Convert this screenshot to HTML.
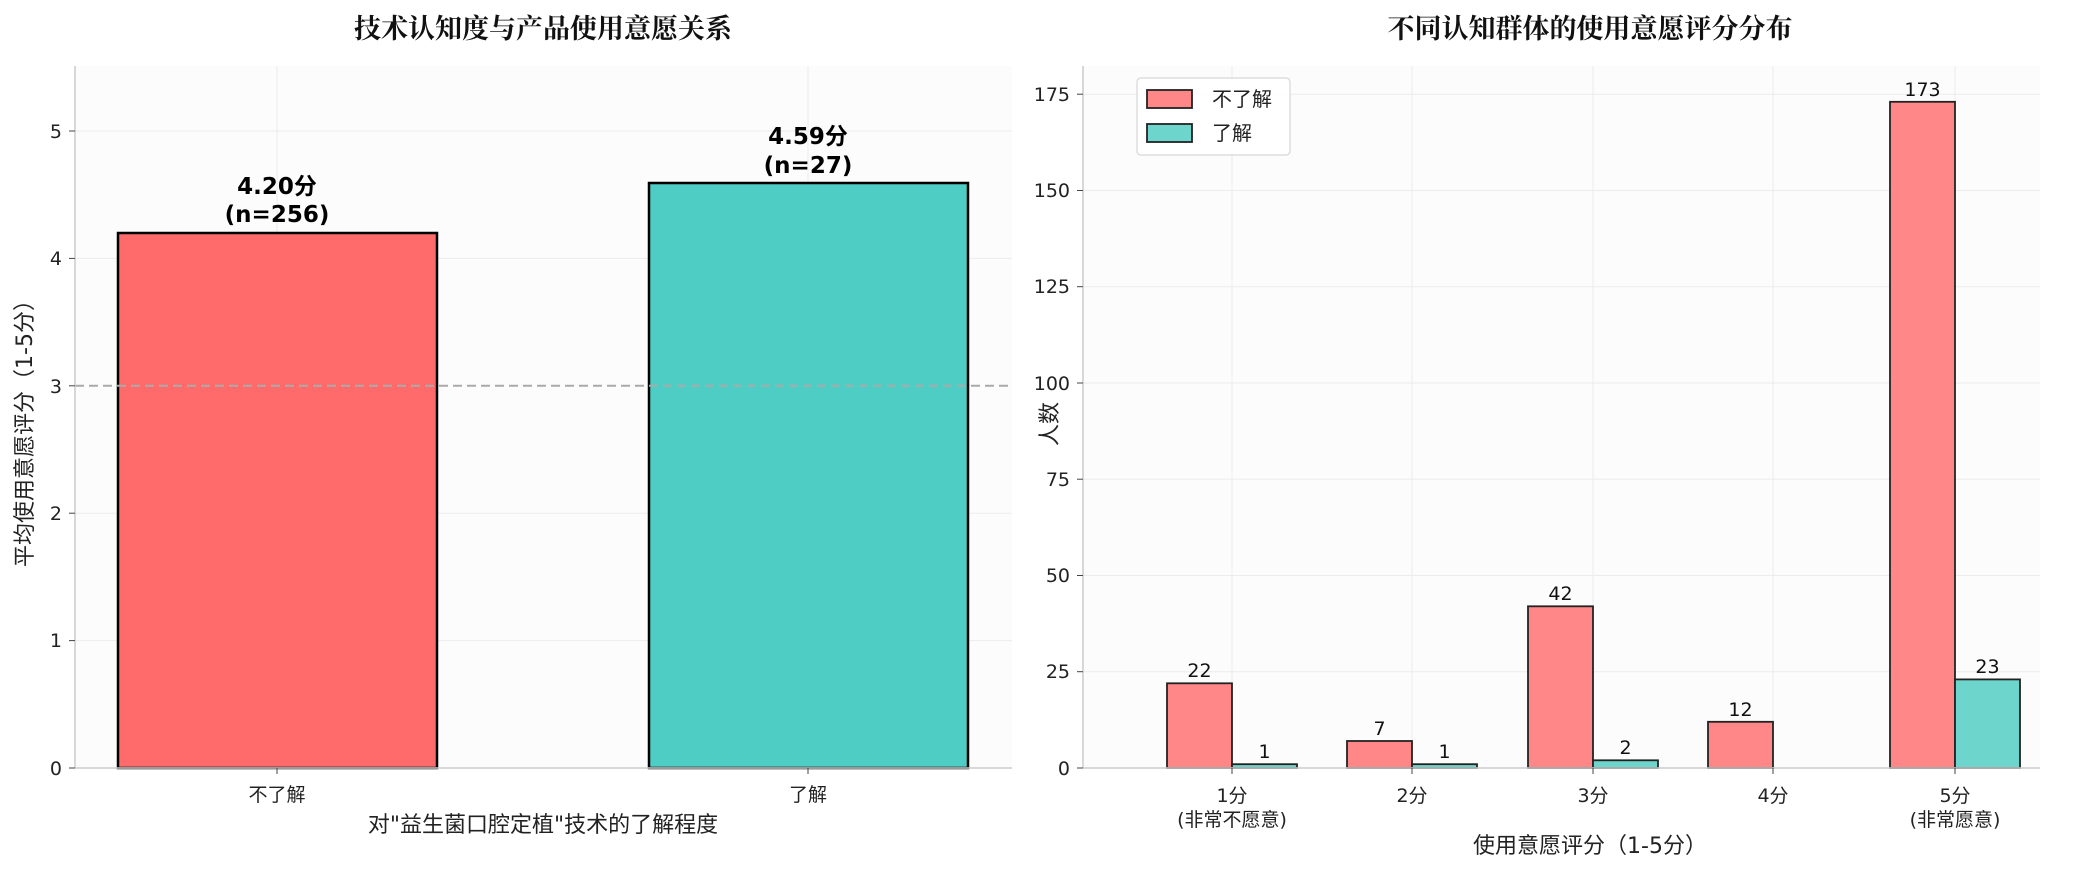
<!DOCTYPE html>
<html><head><meta charset="utf-8"><style>
html,body{margin:0;padding:0;background:#fff;}
svg text{font-family:"DejaVu Sans","Liberation Sans","Noto Sans CJK SC",sans-serif;}
.ser{font-family:"Noto Serif CJK SC",serif !important;}
</style></head><body>
<svg width="2077" height="875" xmlns="http://www.w3.org/2000/svg">
<rect width="2077" height="875" fill="#fff"/>
<!-- LEFT -->
<rect x="75" y="66" width="937" height="702" fill="#fcfcfc"/>
<g stroke="#ececec" stroke-width="1">
<line x1="75" x2="1012" y1="640.6" y2="640.6"/><line x1="75" x2="1012" y1="513.2" y2="513.2"/>
<line x1="75" x2="1012" y1="258.4" y2="258.4"/><line x1="75" x2="1012" y1="131" y2="131"/>
<line x1="277" x2="277" y1="66" y2="768"/><line x1="808" x2="808" y1="66" y2="768"/>
</g>
<rect x="118" y="233" width="319" height="535" fill="#ff6b6b" stroke="#000" stroke-width="2.5"/>
<rect x="649" y="183" width="319" height="585" fill="#4ecdc4" stroke="#000" stroke-width="2.5"/>
<line x1="75" x2="1012" y1="385.8" y2="385.8" stroke="#aaa" stroke-width="2" stroke-dasharray="9,5"/>
<line x1="75" x2="75" y1="66" y2="768" stroke="#ccc" stroke-width="1.5"/>
<line x1="75" x2="1012" y1="768" y2="768" stroke="#ccc" stroke-width="1.5"/>
<g font-size="19" text-anchor="end" fill="#222">
<text x="62" y="775">0</text><text x="62" y="647">1</text><text x="62" y="520">2</text><text x="62" y="393">3</text><text x="62" y="265">4</text><text x="62" y="138">5</text>
</g>
<g stroke="#444"><line x1="69" x2="75" y1="768" y2="768"/><line x1="69" x2="75" y1="640.6" y2="640.6"/><line x1="69" x2="75" y1="513.2" y2="513.2"/><line x1="69" x2="75" y1="385.8" y2="385.8"/><line x1="69" x2="75" y1="258.4" y2="258.4"/><line x1="69" x2="75" y1="131" y2="131"/>
<line x1="277" x2="277" y1="768" y2="774"/><line x1="808" x2="808" y1="768" y2="774"/></g>
<g font-size="19" text-anchor="middle" fill="#222"><text x="277" y="801">不了解</text><text x="808" y="801">了解</text></g>
<g font-size="23" font-weight="bold" text-anchor="middle" fill="#000">
<text x="277" y="194">4.20分</text><text x="277" y="222">(n=256)</text>
<text x="808" y="144">4.59分</text><text x="808" y="173">(n=27)</text></g>
<text x="543" y="832" font-size="22" text-anchor="middle" fill="#222" font-family="Noto Sans CJK SC,sans-serif">对"益生菌口腔定植"技术的了解程度</text>
<text transform="translate(32,428) rotate(-90)" font-size="22" text-anchor="middle" fill="#222" font-family="Noto Sans CJK SC,sans-serif">平均使用意愿评分（1-5分）</text>
<text class="ser" x="543" y="38" font-size="27" font-weight="bold" text-anchor="middle" fill="#111">技术认知度与产品使用意愿关系</text>
<!-- RIGHT -->
<rect x="1083" y="66" width="957" height="702" fill="#fcfcfc"/>
<g stroke="#ececec" stroke-width="1">
<line x1="1083" x2="2040" y1="671.7" y2="671.7"/><line x1="1083" x2="2040" y1="575.5" y2="575.5"/><line x1="1083" x2="2040" y1="479.2" y2="479.2"/><line x1="1083" x2="2040" y1="383" y2="383"/><line x1="1083" x2="2040" y1="286.7" y2="286.7"/><line x1="1083" x2="2040" y1="190.5" y2="190.5"/><line x1="1083" x2="2040" y1="94.2" y2="94.2"/>
<line x1="1232" x2="1232" y1="66" y2="768"/><line x1="1412" x2="1412" y1="66" y2="768"/><line x1="1593" x2="1593" y1="66" y2="768"/><line x1="1773" x2="1773" y1="66" y2="768"/><line x1="1955" x2="1955" y1="66" y2="768"/>
</g>
<g stroke="#222" stroke-width="1.8">
<rect x="1167" y="683.3" width="65" height="84.7" fill="#ff8787"/><rect x="1232" y="764.2" width="65" height="3.8" fill="#6dd5cb"/>
<rect x="1347" y="741" width="65" height="27" fill="#ff8787"/><rect x="1412" y="764.2" width="65" height="3.8" fill="#6dd5cb"/>
<rect x="1528" y="606.3" width="65" height="161.7" fill="#ff8787"/><rect x="1593" y="760.3" width="65" height="7.7" fill="#6dd5cb"/>
<rect x="1708" y="721.8" width="65" height="46.2" fill="#ff8787"/>
<rect x="1890" y="101.8" width="65" height="666.2" fill="#ff8787"/><rect x="1955" y="679.4" width="65" height="88.6" fill="#6dd5cb"/>
</g>
<g font-size="19" text-anchor="middle" fill="#111">
<text x="1199.5" y="677">22</text><text x="1264.5" y="758">1</text>
<text x="1379.5" y="735">7</text><text x="1444.5" y="758">1</text>
<text x="1560.5" y="600">42</text><text x="1625.5" y="754">2</text>
<text x="1740.5" y="716">12</text>
<text x="1922.5" y="96">173</text><text x="1987.5" y="673">23</text></g>
<line x1="1083" x2="1083" y1="66" y2="768" stroke="#ccc" stroke-width="1.5"/>
<line x1="1083" x2="2040" y1="768" y2="768" stroke="#ccc" stroke-width="1.5"/>
<g font-size="19" text-anchor="end" fill="#222">
<text x="1070" y="775">0</text><text x="1070" y="678">25</text><text x="1070" y="582">50</text><text x="1070" y="486">75</text><text x="1070" y="390">100</text><text x="1070" y="293">125</text><text x="1070" y="197">150</text><text x="1070" y="101">175</text></g>
<g stroke="#444"><line x1="1077" x2="1083" y1="768" y2="768"/><line x1="1077" x2="1083" y1="671.7" y2="671.7"/><line x1="1077" x2="1083" y1="575.5" y2="575.5"/><line x1="1077" x2="1083" y1="479.2" y2="479.2"/><line x1="1077" x2="1083" y1="383" y2="383"/><line x1="1077" x2="1083" y1="286.7" y2="286.7"/><line x1="1077" x2="1083" y1="190.5" y2="190.5"/><line x1="1077" x2="1083" y1="94.2" y2="94.2"/>
<line x1="1232" x2="1232" y1="768" y2="774"/><line x1="1412" x2="1412" y1="768" y2="774"/><line x1="1593" x2="1593" y1="768" y2="774"/><line x1="1773" x2="1773" y1="768" y2="774"/><line x1="1955" x2="1955" y1="768" y2="774"/></g>
<g font-size="19" text-anchor="middle" fill="#222">
<text x="1232" y="802">1分</text><text x="1232" y="826">(非常不愿意)</text>
<text x="1412" y="802">2分</text><text x="1593" y="802">3分</text><text x="1773" y="802">4分</text>
<text x="1955" y="802">5分</text><text x="1955" y="826">(非常愿意)</text></g>
<text x="1590" y="853" font-size="22" text-anchor="middle" fill="#222" font-family="Noto Sans CJK SC,sans-serif">使用意愿评分（1-5分）</text>
<text transform="translate(1057,424) rotate(-90)" font-size="22" text-anchor="middle" fill="#222" font-family="Noto Sans CJK SC,sans-serif">人数</text>
<text class="ser" x="1590" y="38" font-size="27" font-weight="bold" text-anchor="middle" fill="#111">不同认知群体的使用意愿评分分布</text>
<rect x="1137" y="78" width="153" height="77" rx="4" fill="#fff" fill-opacity="0.9" stroke="#ddd" stroke-width="1.5"/>
<rect x="1147" y="90" width="45" height="18" fill="#ff8787" stroke="#222" stroke-width="1.8"/>
<rect x="1147" y="124" width="45" height="18" fill="#6dd5cb" stroke="#222" stroke-width="1.8"/>
<g font-size="20" fill="#222"><text x="1212" y="106">不了解</text><text x="1212" y="140">了解</text></g>
</svg>
</body></html>
